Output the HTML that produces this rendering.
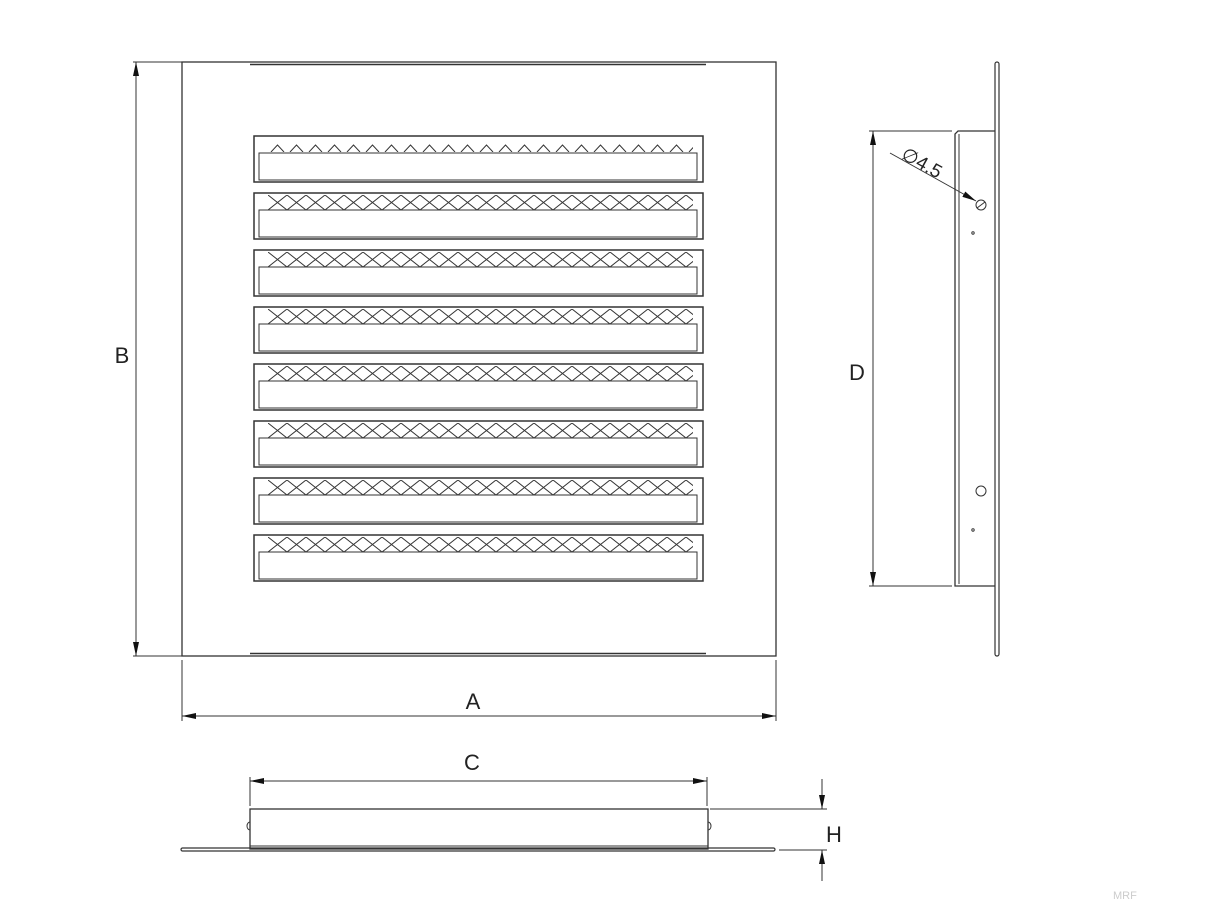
<!DOCTYPE html>
<html><head><meta charset="utf-8"><style>
html,body{margin:0;padding:0;background:#fff;}
svg{display:block;}
text{font-family:"Liberation Sans",sans-serif;fill:#222;}
</style></head><body>
<svg width="1210" height="909" viewBox="0 0 1210 909" xmlns="http://www.w3.org/2000/svg">
<defs>
<pattern id="lat" x="268" y="138" width="38" height="15" patternUnits="userSpaceOnUse">
<path d="M0,0 L19,15 L38,0 M0,15 L19,0 L38,15" fill="none" stroke="#333" stroke-width="1"/>
</pattern>
<pattern id="tri" x="268" y="0" width="19" height="8" patternUnits="userSpaceOnUse">
<path d="M3,8 L9.5,1 L16,8" fill="none" stroke="#333" stroke-width="1"/>
</pattern>
<marker id="ar" markerWidth="14" markerHeight="6" refX="14" refY="3" orient="auto" markerUnits="userSpaceOnUse">
<path d="M0,0 L14,3 L0,6 Z" fill="#111"/>
</marker>
</defs>
<g stroke="#333" fill="none" stroke-width="1">
<rect x="182" y="62" width="594" height="594" stroke-width="1.3"/>
<line x1="250" y1="64.5" x2="706" y2="64.5" stroke-width="1.5"/>
<line x1="250" y1="653.5" x2="706" y2="653.5" stroke-width="1.5"/>
<g>
<rect x="254" y="136" width="449" height="46" stroke-width="1.5"/>
<rect x="268" y="144" width="425" height="8" fill="url(#tri)" stroke="none"/>
<rect x="259" y="153" width="438" height="27"/>
</g>
<g transform="translate(0,57)">
<rect x="254" y="136" width="449" height="46" stroke-width="1.5"/>
<rect x="268" y="138" width="425" height="15" fill="url(#lat)" stroke="none"/>
<rect x="259" y="153" width="438" height="27" fill="#fff"/>
</g>
<g transform="translate(0,114)">
<rect x="254" y="136" width="449" height="46" stroke-width="1.5"/>
<rect x="268" y="138" width="425" height="15" fill="url(#lat)" stroke="none"/>
<rect x="259" y="153" width="438" height="27" fill="#fff"/>
</g>
<g transform="translate(0,171)">
<rect x="254" y="136" width="449" height="46" stroke-width="1.5"/>
<rect x="268" y="138" width="425" height="15" fill="url(#lat)" stroke="none"/>
<rect x="259" y="153" width="438" height="27" fill="#fff"/>
</g>
<g transform="translate(0,228)">
<rect x="254" y="136" width="449" height="46" stroke-width="1.5"/>
<rect x="268" y="138" width="425" height="15" fill="url(#lat)" stroke="none"/>
<rect x="259" y="153" width="438" height="27" fill="#fff"/>
</g>
<g transform="translate(0,285)">
<rect x="254" y="136" width="449" height="46" stroke-width="1.5"/>
<rect x="268" y="138" width="425" height="15" fill="url(#lat)" stroke="none"/>
<rect x="259" y="153" width="438" height="27" fill="#fff"/>
</g>
<g transform="translate(0,342)">
<rect x="254" y="136" width="449" height="46" stroke-width="1.5"/>
<rect x="268" y="138" width="425" height="15" fill="url(#lat)" stroke="none"/>
<rect x="259" y="153" width="438" height="27" fill="#fff"/>
</g>
<g transform="translate(0,399)">
<rect x="254" y="136" width="449" height="46" stroke-width="1.5"/>
<rect x="268" y="138" width="425" height="15" fill="url(#lat)" stroke="none"/>
<rect x="259" y="153" width="438" height="27" fill="#fff"/>
</g>
<line x1="133" y1="62" x2="182" y2="62"/>
<line x1="133" y1="656" x2="182" y2="656"/>
<line x1="136" y1="360" x2="136" y2="62" marker-end="url(#ar)"/>
<line x1="136" y1="360" x2="136" y2="656" marker-end="url(#ar)"/>
<line x1="182" y1="660" x2="182" y2="721"/>
<line x1="776" y1="660" x2="776" y2="721"/>
<line x1="479" y1="716" x2="182" y2="716" marker-end="url(#ar)"/>
<line x1="479" y1="716" x2="776" y2="716" marker-end="url(#ar)"/>
<rect x="995" y="62" width="4" height="594" rx="2" stroke-width="1.2"/>
<path d="M995,131 L958,131 L955,134 L955,586 L995,586" stroke-width="1.3"/>
<line x1="959" y1="134" x2="959" y2="584"/>
<circle cx="981" cy="205" r="5"/>
<line x1="977" y1="208" x2="985" y2="202"/>
<circle cx="981" cy="491" r="5"/>
<circle cx="973" cy="233" r="1.2"/>
<circle cx="973" cy="530" r="1.2"/>
<line x1="869" y1="131" x2="952" y2="131"/>
<line x1="869" y1="586" x2="952" y2="586"/>
<line x1="873" y1="360" x2="873" y2="131" marker-end="url(#ar)"/>
<line x1="873" y1="360" x2="873" y2="586" marker-end="url(#ar)"/>
<line x1="890" y1="153" x2="976" y2="201" marker-end="url(#ar)"/>
<rect x="181" y="848" width="594" height="3" rx="1.5" stroke-width="1.2"/>
<rect x="250" y="809" width="458" height="40" stroke-width="1.3"/>
<line x1="250" y1="846" x2="708" y2="846"/>
<path d="M250,822 a3,4 0 0 0 0,8"/>
<path d="M708,822 a3,4 0 0 1 0,8"/>
<line x1="250" y1="777" x2="250" y2="806"/>
<line x1="707" y1="777" x2="707" y2="806"/>
<line x1="479" y1="781" x2="250" y2="781" marker-end="url(#ar)"/>
<line x1="479" y1="781" x2="707" y2="781" marker-end="url(#ar)"/>
<line x1="710" y1="809" x2="827" y2="809"/>
<line x1="779" y1="850" x2="827" y2="850"/>
<line x1="822" y1="779" x2="822" y2="809" marker-end="url(#ar)"/>
<line x1="822" y1="881" x2="822" y2="850" marker-end="url(#ar)"/>
</g>
<text x="122" y="363" font-size="22" text-anchor="middle">B</text>
<text x="473" y="709" font-size="22" text-anchor="middle">A</text>
<text x="857" y="380" font-size="22" text-anchor="middle">D</text>
<text x="472" y="770" font-size="22" text-anchor="middle">C</text>
<text x="834" y="842" font-size="22" text-anchor="middle">H</text>
<text x="0" y="0" font-size="19" transform="translate(900,158) rotate(29)">∅4.5</text>
<text x="1113" y="899" font-size="11" style="fill:#ccc">MRF</text>
</svg>
</body></html>
